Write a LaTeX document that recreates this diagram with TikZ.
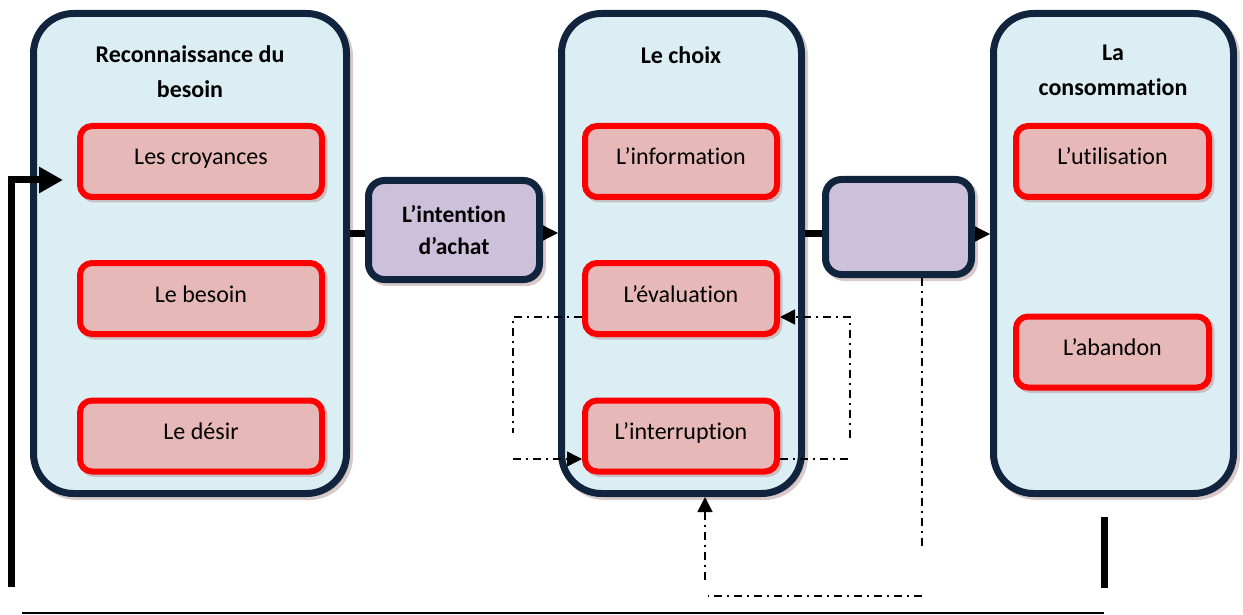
\documentclass[tikz,border=0pt]{standalone}
\usepackage{fontspec}
\setmainfont{Carlito}[Ligatures=NoCommon]
\usetikzlibrary{arrows.meta,shadows,calc}
\definecolor{navy}{HTML}{10243E}
\definecolor{paleblue}{HTML}{DBEEF4}
\definecolor{rosefill}{HTML}{E6B8B7}
\definecolor{lilac}{HTML}{CCC0DA}
\definecolor{shade}{HTML}{B49696}
\begin{document}
\begin{tikzpicture}[x=1pt,y=-1pt,
  stage/.style={draw=navy, line width=7pt, fill=paleblue, rounded corners=40pt,
    minimum width=240pt, minimum height=480pt, inner sep=0pt,
    drop shadow={shadow xshift=3pt, shadow yshift=-3pt, fill=shade, draw=shade, line width=7pt}},
  item/.style={draw=red, line width=6pt, fill=rosefill, rounded corners=12pt,
    minimum height=71pt, inner sep=0pt, text height=17pt, text depth=10pt,
    font=\fontsize{24}{28}\selectfont,
    drop shadow={shadow xshift=2.5pt, shadow yshift=-2.5pt, fill=shade, draw=shade, line width=6pt}},
  link/.style={draw=navy, line width=7pt, fill=lilac, rounded corners=16pt, inner sep=0pt,
    align=center, font=\bfseries\fontsize{23.5}{32}\selectfont,
    drop shadow={shadow xshift=3pt, shadow yshift=-3pt, fill=shade, draw=shade, line width=7pt}},
  heading/.style={align=center, font=\bfseries\fontsize{24}{35}\selectfont},
  bar/.style={line width=7pt},
  thin/.style={line width=1.2pt, -{Triangle[length=15pt,width=15pt]}},
  dd/.style={line width=1.5pt, dash pattern=on 8pt off 5pt on 2pt off 5pt},
  ddtip/.style={-{Triangle[length=15pt,width=15pt]}}
]
\useasboundingbox (0,0) rectangle (1243,615);

% three stages
\node[stage, minimum width=313pt] (b1) at (190,253.5) {};
\node[stage] (b2) at (681.5,253.5) {};
\node[stage] (b3) at (1113.5,253.5) {};

% stage headings
\node[heading] at (190,72) {Reconnaissance du\\besoin};
\node[heading] at (681,55) {Le choix};
\node[heading] at (1113,70) {La\\consommation};

% items of each stage
\node[item, minimum width=242pt] (cro) at (201,161.5) {Les croyances};
\node[item, minimum width=242pt] (bes) at (201,298.5) {Le besoin};
\node[item, minimum width=242pt] (des) at (201,436) {Le désir};

\node[item, minimum width=192pt] (inf) at (681,161.5) {L’information};
\node[item, minimum width=192pt] (eva) at (681,298.5) {L’évaluation};
\node[item, minimum width=192pt] (itr) at (681,436) {L’interruption};

\node[item, minimum width=193pt] (uti) at (1112.5,161.5) {L’utilisation};
\node[item, minimum width=193pt] (aba) at (1112.5,352) {L’abandon};

% intermediate boxes
\node[link, minimum width=171pt, minimum height=99pt] (int) at (454,230) {L’intention\\d’achat};
\node[link, minimum width=146pt, minimum height=95pt] (p2) at (898.5,227) {};

% links between stages
\draw[bar] (b1.east |- 0,233.5) -- (int.west |- 0,233.5);
\draw[thin] (int.east |- 0,233) -- (b2.west |- 0,233);
\draw[bar] (b2.east |- 0,233) -- (p2.west |- 0,233);
\draw[thin] (p2.east |- 0,234) -- (b3.west |- 0,234);

% loops around the choice stage
\draw[dd] (eva.west |- 0,317) -- (513,317) -- (513,433);
\draw[dd, ddtip] (513,459) -- (itr.west |- 0,459);
\draw[dd] (itr.east |- 0,459) -- (850,459);
\draw[dd, ddtip] (850,438) -- (850,317) -- (eva.east |- 0,317);

% return path from the second box
\coordinate (r1) at (922,549);
\coordinate (r2) at (922,596);
\coordinate (r3) at (708,596);
\coordinate (r4) at (705,580);
\draw[dd] (p2.south -| r1) -- (r1);
\draw[dd] (r2) -- (r3);
\draw[dd, ddtip] (r4) -- (b2.south -| r4);

% feedback to the first stage
\coordinate (fa) at (11,587);
\coordinate (fb) at (11,180);
\coordinate (fc) at (63,180);
\draw[line width=7pt, -{Triangle[length=24pt,width=25pt]}] (fa) -- (fb) -- (fc);
\coordinate (la) at (22,613);
\coordinate (lb) at (1104,613);
\draw[line width=2pt] (la) -- (lb);
\coordinate (ka) at (1104,517);
\coordinate (kb) at (1104,588);
\draw[line width=7pt] (ka) -- (kb);
\end{tikzpicture}
\end{document}
